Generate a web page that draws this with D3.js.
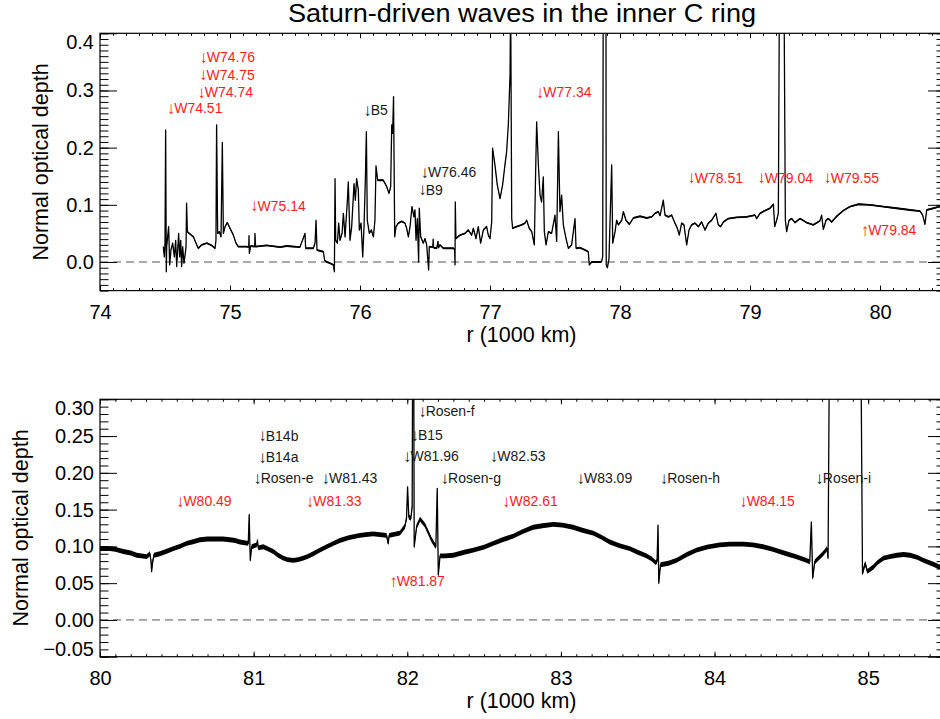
<!DOCTYPE html>
<html>
<head>
<meta charset="utf-8">
<script src="https://d3js.org/d3.v7.min.js"></script>
<style>
  body { margin: 0; background: #fff; }
</style>
</head>
<body>
<div id="chart"></div>
<script>
// Saturn-driven waves in the inner C ring - two stacked optical depth profiles

var chartTitle = "Saturn-driven waves in the inner C ring";
var xTitle = "r (1000 km)";
var yTitle = "Normal optical depth";

// upper panel profile: [r (1000 km), normal optical depth]
var profileTop = [
  [74.487,0.027],[74.495,0.009],[74.500,0.033],[74.505,0.231],[74.510,-0.017],[74.513,0.027],
  [74.528,0.062],[74.536,-0.005],[74.546,0.021],[74.559,0.033],[74.572,0.009],[74.582,0.038],
  [74.590,-0.008],[74.605,0.050],[74.613,0.009],[74.621,0.038],[74.628,-0.008],[74.636,0.027],
  [74.646,-0.002],[74.656,0.015],[74.662,0.027],[74.666,0.103],[74.672,0.053],[74.687,0.050],
  [74.718,0.044],[74.744,0.030],[74.756,0.024],[74.782,0.030],[74.821,0.033],[74.859,0.029],
  [74.885,0.024],[74.892,0.038],[74.897,0.240],[74.905,0.050],[74.918,0.053],[74.931,0.044],
  [74.941,0.209],[74.949,0.050],[74.962,0.062],[74.979,0.069],[75.000,0.059],[75.026,0.047],
  [75.046,0.033],[75.064,0.027],[75.128,0.027],[75.144,0.026],[75.146,0.046],[75.149,0.015],
  [75.159,0.028],[75.190,0.027],[75.192,0.050],[75.197,0.027],[75.282,0.029],[75.385,0.026],
  [75.436,0.028],[75.538,0.026],[75.577,0.050],[75.582,0.024],[75.641,0.024],[75.654,0.033],
  [75.662,0.073],[75.669,0.021],[75.718,0.018],[75.728,0.003],[75.744,0.000],[75.769,-0.002],
  [75.795,-0.005],[75.803,-0.017],[75.808,0.146],[75.813,0.038],[75.826,0.033],[75.836,0.068],
  [75.846,0.038],[75.862,0.050],[75.872,0.085],[75.885,0.044],[75.903,0.108],[75.910,0.140],
  [75.923,0.038],[75.936,0.062],[75.954,0.137],[75.964,0.108],[75.974,0.146],[75.987,0.126],
  [75.995,0.056],[76.008,0.068],[76.021,0.009],[76.031,0.062],[76.041,0.143],[76.049,0.228],
  [76.056,0.073],[76.072,0.050],[76.087,0.056],[76.103,0.044],[76.115,0.073],[76.123,0.168],
  [76.136,0.143],[76.179,0.143],[76.205,0.132],[76.223,0.120],[76.236,0.132],[76.244,0.240],
  [76.251,0.225],[76.258,0.289],[76.267,0.044],[76.277,0.062],[76.295,0.068],[76.321,0.071],
  [76.346,0.068],[76.359,0.059],[76.372,0.044],[76.385,0.062],[76.400,0.097],[76.415,0.079],
  [76.423,0.091],[76.431,0.038],[76.441,0.076],[76.451,0.000],[76.456,0.094],[76.467,0.044],
  [76.487,0.033],[76.500,0.041],[76.513,0.030],[76.528,-0.014],[76.533,0.027],[76.560,0.026],
  [76.563,0.040],[76.566,0.025],[76.590,0.024],[76.600,0.036],[76.604,0.025],[76.615,0.030],
  [76.641,0.024],[76.667,0.024],[76.718,0.024],[76.728,0.022],[76.731,-0.005],[76.733,0.105],
  [76.738,0.041],[76.769,0.047],[76.808,0.050],[76.833,0.056],[76.859,0.047],[76.872,0.059],
  [76.892,0.041],[76.910,0.062],[76.928,0.033],[76.949,0.056],[76.974,0.062],[76.987,0.047],
  [77.000,0.041],[77.013,0.070],[77.020,0.199],[77.038,0.170],[77.056,0.135],[77.077,0.111],
  [77.097,0.135],[77.115,0.170],[77.128,0.193],[77.141,0.240],[77.154,0.327],[77.159,0.460],
  [77.167,0.076],[77.174,0.059],[77.205,0.062],[77.244,0.065],[77.269,0.068],[77.282,0.073],
  [77.302,0.059],[77.321,0.053],[77.341,0.030],[77.351,0.158],[77.359,0.245],[77.372,0.170],
  [77.385,0.117],[77.397,0.105],[77.410,0.149],[77.418,0.053],[77.431,0.030],[77.449,0.053],
  [77.474,0.050],[77.500,0.082],[77.513,0.036],[77.526,0.228],[77.538,0.088],[77.551,0.117],
  [77.564,0.065],[77.585,0.041],[77.603,0.024],[77.628,0.030],[77.654,0.076],[77.662,0.024],
  [77.692,0.025],[77.731,0.021],[77.756,0.018],[77.764,-0.005],[77.782,0.000],[77.846,0.000],
  [77.859,0.001],[77.867,0.010],[77.871,0.460],[77.892,0.460],[77.894,-0.005],[77.903,-0.010],
  [77.915,0.005],[77.936,0.170],[77.944,0.033],[77.962,0.053],[77.974,0.073],[77.987,0.065],
  [78.013,0.073],[78.026,0.088],[78.046,0.073],[78.072,0.066],[78.103,0.077],[78.154,0.080],
  [78.205,0.077],[78.244,0.079],[78.269,0.085],[78.295,0.088],[78.308,0.081],[78.333,0.108],
  [78.346,0.082],[78.372,0.079],[78.397,0.082],[78.423,0.068],[78.441,0.059],[78.456,0.047],
  [78.474,0.068],[78.492,0.065],[78.513,0.030],[78.531,0.056],[78.551,0.065],[78.577,0.068],
  [78.603,0.062],[78.628,0.070],[78.654,0.056],[78.679,0.068],[78.705,0.073],[78.738,0.085],
  [78.756,0.065],[78.774,0.062],[78.795,0.070],[78.833,0.076],[78.897,0.078],[78.974,0.079],
  [79.038,0.082],[79.051,0.076],[79.077,0.085],[79.115,0.090],[79.154,0.094],[79.180,0.101],
  [79.190,0.062],[79.205,0.073],[79.218,0.085],[79.226,0.460],[79.262,0.460],[79.272,0.073],
  [79.282,0.053],[79.300,0.073],[79.321,0.076],[79.346,0.069],[79.385,0.076],[79.436,0.069],
  [79.487,0.065],[79.538,0.072],[79.551,0.082],[79.564,0.057],[79.585,0.073],[79.603,0.076],
  [79.628,0.070],[79.667,0.080],[79.718,0.090],[79.769,0.097],[79.833,0.101],[79.923,0.100],
  [80.026,0.097],[80.128,0.094],[80.231,0.091],[80.308,0.089],[80.328,0.082],[80.346,0.066],
  [80.359,0.091],[80.410,0.094],[80.456,0.097],[80.500,0.098]
];

// lower panel profile: [r (1000 km), normal optical depth]
var profileBottom = [
  [80.000,0.097],[80.065,0.097],[80.100,0.096],[80.152,0.093],[80.200,0.091],[80.239,0.088],
  [80.270,0.087],[80.304,0.086],[80.325,0.090],[80.332,0.080],[80.336,0.066],[80.342,0.078],
  [80.351,0.088],[80.390,0.090],[80.430,0.093],[80.477,0.097],[80.520,0.100],[80.564,0.104],
  [80.600,0.106],[80.651,0.109],[80.700,0.110],[80.759,0.110],[80.800,0.110],[80.846,0.109],
  [80.880,0.108],[80.911,0.106],[80.965,0.104],[80.971,0.143],[80.978,0.081],[80.987,0.0995],
  [81.020,0.102],[81.025,0.108],[81.030,0.098],[81.063,0.0995],[81.100,0.096],[81.128,0.093],
  [81.160,0.088],[81.193,0.084],[81.220,0.082],[81.258,0.081],[81.290,0.082],[81.323,0.084],
  [81.350,0.086],[81.388,0.090],[81.431,0.095],[81.480,0.100],[81.520,0.104],[81.561,0.108],
  [81.620,0.112],[81.692,0.115],[81.730,0.116],[81.778,0.117],[81.865,0.115],[81.876,0.104],
  [81.882,0.115],[81.952,0.118],[81.984,0.127],[81.995,0.138],[82.002,0.181],[82.010,0.140],
  [82.023,0.138],[82.032,0.154],[82.036,0.450],[82.041,0.450],[82.045,0.0995],[82.061,0.127],
  [82.083,0.137],[82.115,0.129],[82.158,0.109],[82.186,0.0995],[82.195,0.179],[82.202,0.061],
  [82.213,0.087],[82.250,0.087],[82.300,0.088],[82.370,0.092],[82.430,0.095],[82.500,0.099],
  [82.560,0.104],[82.620,0.109],[82.690,0.114],[82.750,0.120],[82.820,0.126],[82.880,0.128],
  [82.950,0.130],[83.010,0.129],[83.080,0.126],[83.140,0.122],[83.210,0.118],[83.260,0.113],
  [83.318,0.106],[83.380,0.101],[83.448,0.097],[83.500,0.092],[83.557,0.087],[83.590,0.083],
  [83.617,0.078],[83.626,0.080],[83.632,0.129],[83.637,0.050],[83.648,0.075],[83.700,0.077],
  [83.752,0.081],[83.820,0.089],[83.882,0.095],[83.950,0.099],[84.034,0.102],[84.100,0.103],
  [84.186,0.103],[84.250,0.102],[84.316,0.0995],[84.380,0.096],[84.468,0.090],[84.530,0.086],
  [84.598,0.081],[84.620,0.079],[84.630,0.133],[84.639,0.057],[84.652,0.079],[84.706,0.090],
  [84.732,0.097],[84.739,0.084],[84.750,0.450],[84.950,0.450],[84.963,0.063],[84.980,0.077],
  [84.995,0.066],[85.034,0.072],[85.060,0.078],[85.100,0.084],[85.140,0.086],[85.187,0.088],
  [85.230,0.089],[85.273,0.088],[85.320,0.085],[85.360,0.081],[85.420,0.076],[85.464,0.072],
  [85.500,0.070]
];

// resonance / wave annotations (label, r where the arrow sits, tau of the label, Saturn-driven?)
// arrows: "down" = ↓ before the name, "up" = ↑
var topMarkName = ["W74.51","W74.74","W74.75","W74.76","W75.14","B5",
  "W76.46","B9","W77.34","W78.51","W79.04","W79.55","W79.84"];
var topMarkArrow = ["\u2193","\u2193","\u2193","\u2193","\u2193","\u2193","\u2193","\u2193","\u2193","\u2193","\u2193","\u2193","\u2191"];
var topMarkR = [74.513, 74.748, 74.762, 74.764, 75.154, 76.025, 76.466, 76.448, 77.352, 78.518, 79.056, 79.564, 79.851];
var topMarkTau = [0.260, 0.288, 0.319, 0.350, 0.090, 0.257, 0.149, 0.118, 0.288, 0.139, 0.139, 0.139, 0.047];
var topMarkSaturn = [true, true, true, true, true, false, false, false, true, true, true, true, true];

var bottomMarkName = ["B14b","B14a","Rosen-e","W80.49","W81.33","W81.43",
  "Rosen-f","B15","W81.96","W82.53","Rosen-g","W82.61","W81.87",
  "W83.09","Rosen-h","W84.15","Rosen-i"];
var bottomMarkArrow = ["\u2193","\u2193","\u2193","\u2193","\u2193","\u2193","\u2193","\u2193","\u2193",
  "\u2193","\u2193","\u2193","\u2191","\u2193","\u2193","\u2193","\u2193"];
var bottomMarkR = [81.030, 81.030, 80.997, 80.494, 81.340, 81.442, 82.071, 82.021, 81.973, 82.537, 82.217,
  82.617, 81.882, 83.101, 83.643, 84.160, 84.656];
var bottomMarkTau = [0.244, 0.215, 0.186, 0.155, 0.155, 0.186, 0.277, 0.245, 0.216, 0.216, 0.186,
  0.155, 0.046, 0.186, 0.186, 0.155, 0.186];
var bottomMarkSaturn = [false, false, false, true, true, false, false, false, false, false, false,
  true, true, false, false, true, false];

// axis ranges
var topXDomain = [74, 80.5], topYDomain = [-0.05, 0.4];
var bottomXDomain = [80, 85.5], bottomYDomain = [-0.05, 0.30];

var svgWidth = 940;
var svgHeight = 719;
var plotLeft = 100;
var plotRight = 945;   // right frame sits just past the picture edge
var fontStack = "'Liberation Sans', Arial, Helvetica, sans-serif";

var svg = d3.select("#chart")
  .append("svg")
  .attr("width", svgWidth)
  .attr("height", svgHeight)
  .style("font-family", fontStack);

svg.append("text")
  .attr("x", 522)
  .attr("y", 22)
  .attr("text-anchor", "middle")
  .attr("font-size", "25px")
  .attr("textLength", 468)
  .attr("lengthAdjust", "spacingAndGlyphs")
  .attr("fill", "#000")
  .text(chartTitle);

function steps(start, stop, step) {
  var n = Math.round((stop - start) / step);
  return d3.range(n + 1).map(function(i) { return +(start + i * step).toFixed(4); });
}

function drawPanel(p) {
  var x = d3.scaleLinear().domain(p.xDomain).range([plotLeft, plotRight]);
  var y = d3.scaleLinear().domain(p.yDomain).range([p.bottom, p.top]);

  var clipId = "clip-" + p.name;
  svg.append("clipPath").attr("id", clipId)
    .append("rect")
    .attr("x", plotLeft)
    .attr("y", p.top)
    .attr("width", plotRight - plotLeft)
    .attr("height", p.bottom - p.top);

  // dashed zero level
  svg.append("line")
    .attr("x1", plotLeft).attr("x2", plotRight)
    .attr("y1", y(0)).attr("y2", y(0))
    .attr("stroke", "#555")
    .attr("stroke-width", 1)
    .attr("stroke-dasharray", "8,5");

  var plotGroup = svg.append("g").attr("clip-path", "url(#" + clipId + ")");

  // thin noise band around the profile, then the profile itself
  var band = d3.area()
    .x(function(d) { return x(d[0]); })
    .y0(function(d) { return y(d[1] - p.noise); })
    .y1(function(d) { return y(d[1] + p.noise); });
  plotGroup.append("path")
    .datum(p.profile)
    .attr("d", band)
    .attr("fill", "#000");

  var valueline = d3.line()
    .x(function(d) { return x(d[0]); })
    .y(function(d) { return y(d[1]); });
  plotGroup.append("path")
    .datum(p.profile)
    .attr("d", valueline)
    .attr("fill", "none")
    .attr("stroke", "#000")
    .attr("stroke-width", 1.3)
    .attr("stroke-linejoin", "round");

  // axes: IDL style inward ticks on all four sides
  var xMajor = steps(p.xDomain[0], Math.floor(p.xDomain[1]), 1);
  var xMinor = steps(p.xDomain[0], p.xDomain[1], 0.1);
  var yMinor = steps(p.yDomain[0], p.yDomain[1], 0.01);

  function styleAxis(g) {
    g.select(".domain").remove();
    g.attr("font-family", fontStack).attr("font-size", "20px");
    g.selectAll("line").attr("stroke", "#000");
    g.selectAll("text").attr("fill", "#000");
  }

  svg.append("g")
    .attr("transform", "translate(" + plotLeft + ",0)")
    .call(d3.axisLeft(y).tickValues(yMinor).tickSize(-8.5).tickFormat(""))
    .call(styleAxis);
  svg.append("g")
    .attr("transform", "translate(" + plotLeft + ",0)")
    .call(d3.axisLeft(y).tickValues(p.yMajor).tickSize(-17).tickPadding(6).tickFormat(d3.format(p.yFormat)))
    .call(styleAxis)
    .call(function(g) {
      g.selectAll(".tick text").attr("y", function(d) {
        var ty = y(d);
        var cy = Math.min(Math.max(ty, p.top + 9), p.bottom - 8);
        return cy - ty;
      });
    });
  svg.append("g")
    .attr("transform", "translate(" + plotRight + ",0)")
    .call(d3.axisRight(y).tickValues(yMinor).tickSize(-8.5).tickFormat(""))
    .call(styleAxis);
  svg.append("g")
    .attr("transform", "translate(" + plotRight + ",0)")
    .call(d3.axisRight(y).tickValues(p.yMajor).tickSize(-17).tickFormat(""))
    .call(styleAxis);

  svg.append("g")
    .attr("transform", "translate(0," + p.bottom + ")")
    .call(d3.axisBottom(x).tickValues(xMinor).tickSize(-2.5).tickFormat(""))
    .call(styleAxis);
  svg.append("g")
    .attr("transform", "translate(0," + p.bottom + ")")
    .call(d3.axisBottom(x).tickValues(xMajor).tickSize(-5).tickPadding(14).tickFormat(d3.format("d")))
    .call(styleAxis);
  svg.append("g")
    .attr("transform", "translate(0," + p.top + ")")
    .call(d3.axisTop(x).tickValues(xMinor).tickSize(-2.5).tickFormat(""))
    .call(styleAxis);
  svg.append("g")
    .attr("transform", "translate(0," + p.top + ")")
    .call(d3.axisTop(x).tickValues(xMajor).tickSize(-5).tickFormat(""))
    .call(styleAxis);

  // frame
  svg.append("rect")
    .attr("x", plotLeft)
    .attr("y", p.top)
    .attr("width", plotRight - plotLeft)
    .attr("height", p.bottom - p.top)
    .attr("fill", "none")
    .attr("stroke", "#000")
    .attr("stroke-width", 1.2);

  // axis titles
  svg.append("text")
    .attr("x", (plotLeft + plotRight) / 2 - 1)
    .attr("y", p.bottom + 44)
    .attr("dy", "0.35em")
    .attr("text-anchor", "middle")
    .attr("font-size", "21.5px")
    .text(xTitle);
  svg.append("text")
    .attr("transform", "translate(" + p.yTitleX + "," + (p.top + p.bottom) / 2 + ") rotate(-90)")
    .attr("dy", "0.35em")
    .attr("text-anchor", "middle")
    .attr("font-size", "21.5px")
    .text(yTitle);

  // wave annotations: arrow glyph drawn a bit larger than the name
  var marks = p.markName.map(function(t, i) {
    return { name: t, arrow: p.markArrow[i], r: p.markR[i], tau: p.markTau[i], saturn: p.markSaturn[i] };
  });
  var markText = svg.append("g")
    .selectAll("text")
    .data(marks)
    .enter().append("text")
    .attr("x", function(d) { return x(d.r); })
    .attr("y", function(d) { return y(d.tau); })
    .attr("dy", "0.35em")
    .attr("font-size", "14px")
    .attr("fill", function(d) { return d.saturn ? "#ff1a1a" : "#1a1a1a"; });
  markText.append("tspan")
    .attr("font-size", "17px")
    .attr("dy", "0.05em")
    .text(function(d) { return d.arrow; });
  markText.append("tspan")
    .attr("dx", "-1")
    .attr("dy", "-0.05em")
    .text(function(d) { return d.name; });
}

drawPanel({
  name: "top",
  top: 33.3,
  bottom: 290.6,
  xDomain: topXDomain,
  yDomain: topYDomain,
  yMajor: steps(0, 0.4, 0.1),
  yFormat: ".1f",
  yTitleX: 40,
  noise: 0.0016,
  profile: profileTop,
  markName: topMarkName,
  markArrow: topMarkArrow,
  markR: topMarkR,
  markTau: topMarkTau,
  markSaturn: topMarkSaturn
});

drawPanel({
  name: "bottom",
  top: 399.3,
  bottom: 656.7,
  xDomain: bottomXDomain,
  yDomain: bottomYDomain,
  yMajor: steps(-0.05, 0.30, 0.05),
  yFormat: ".2f",
  yTitleX: 20,
  noise: 0.0033,
  profile: profileBottom,
  markName: bottomMarkName,
  markArrow: bottomMarkArrow,
  markR: bottomMarkR,
  markTau: bottomMarkTau,
  markSaturn: bottomMarkSaturn
});
</script>
</body>
</html>
